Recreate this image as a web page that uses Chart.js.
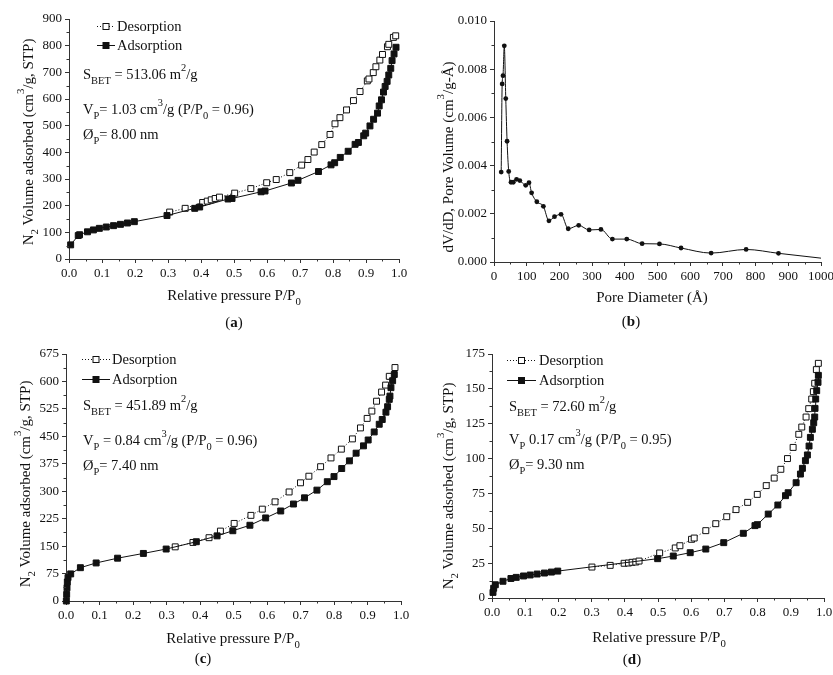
<!DOCTYPE html>
<html>
<head>
<meta charset="utf-8">
<script src="https://cdn.jsdelivr.net/npm/chart.js"></script>
<style>
  body { margin: 0; background: #fff; }
  #wrap { position: relative; width: 833px; height: 675px; }
  #wrap canvas { position: absolute; left: 0; top: 0; }
</style>
</head>
<body>
<div id="wrap">
  <canvas id="chartA" width="833" height="675"></canvas>
  <canvas id="chartB" width="833" height="675"></canvas>
  <canvas id="chartC" width="833" height="675"></canvas>
  <canvas id="chartD" width="833" height="675"></canvas>
</div>
<script>
// ---- data ----

// (a) isotherm
const aAdsP = [0.005, 0.028, 0.032, 0.056, 0.074, 0.092, 0.113, 0.135, 0.156, 0.177, 0.198, 0.297, 0.381, 0.396, 0.482, 0.494, 0.582, 0.594, 0.674, 0.694, 0.756, 0.794, 0.805, 0.822, 0.846, 0.867, 0.877, 0.893, 0.899, 0.912, 0.923, 0.935, 0.940, 0.947, 0.953, 0.958, 0.964, 0.969, 0.975, 0.979, 0.985, 0.991];
const aAdsV = [53, 88, 91, 102, 109, 115, 120, 125, 130, 135, 140, 163, 190, 195, 225, 227, 252, 255, 285, 295, 328, 353, 361, 381, 404, 430, 437, 462, 472, 499, 524, 547, 574, 597, 626, 647, 666, 690, 715, 744, 769, 794];
const aDesP = [0.305, 0.352, 0.405, 0.419, 0.431, 0.443, 0.456, 0.502, 0.551, 0.599, 0.628, 0.669, 0.705, 0.724, 0.743, 0.766, 0.791, 0.806, 0.821, 0.841, 0.862, 0.882, 0.904, 0.909, 0.922, 0.930, 0.942, 0.950, 0.965, 0.969, 0.983, 0.990];
const aDesV = [176, 190, 212, 217, 222, 227, 232, 247, 264, 286, 298, 324, 352, 373, 401, 429, 467, 507, 530, 559, 594, 628, 668, 675, 699, 721, 746, 767, 796, 805, 831, 837];

// (b) pore size distribution
const bDiam = [22, 25, 27.5, 31.5, 36, 40, 45, 52, 59, 69, 79, 97, 107, 115, 131, 151, 168, 185, 205, 227, 259, 291, 327, 362, 406, 453, 506, 572, 664, 771, 870, 1000];
const bDvdD = [0.00373, 0.00739, 0.00773, 0.00897, 0.00678, 0.00501, 0.00376, 0.00331, 0.00331, 0.00343, 0.00338, 0.00318, 0.00329, 0.00287, 0.00250, 0.00231, 0.00171, 0.00188, 0.00198, 0.00138, 0.00152, 0.00133, 0.00135, 0.00095, 0.00095, 0.00076, 0.00075, 0.00058, 0.00037, 0.00052, 0.00036, 0.00016];

// (c) isotherm
const cAdsP = [0.001, 0.002, 0.003, 0.004, 0.006, 0.014, 0.043, 0.090, 0.154, 0.231, 0.299, 0.389, 0.451, 0.498, 0.549, 0.596, 0.641, 0.679, 0.712, 0.749, 0.780, 0.800, 0.823, 0.846, 0.866, 0.888, 0.902, 0.920, 0.935, 0.944, 0.955, 0.960, 0.965, 0.967, 0.970, 0.975, 0.980];
const cAdsV = [0, 18, 36, 52, 64, 74, 91, 104, 117, 130, 142, 162, 178, 192, 207, 227, 246, 265, 282, 303, 326, 340, 362, 383, 404, 424, 440, 462, 483, 496, 516, 531, 551, 560, 583, 602, 619];
const cDesP = [0.326, 0.379, 0.427, 0.461, 0.502, 0.552, 0.586, 0.624, 0.666, 0.700, 0.725, 0.760, 0.791, 0.822, 0.855, 0.879, 0.899, 0.913, 0.927, 0.942, 0.954, 0.965, 0.982];
const cDesV = [148, 160, 173, 191, 212, 234, 251, 271, 298, 323, 341, 367, 391, 415, 443, 473, 499, 519, 546, 571, 590, 614, 638];

// (d) isotherm
const dAdsP = [0.003, 0.005, 0.010, 0.033, 0.057, 0.073, 0.095, 0.115, 0.136, 0.158, 0.179, 0.198, 0.499, 0.546, 0.597, 0.644, 0.698, 0.757, 0.792, 0.799, 0.832, 0.861, 0.884, 0.892, 0.916, 0.929, 0.935, 0.944, 0.950, 0.955, 0.959, 0.965, 0.969, 0.972, 0.973, 0.975, 0.978, 0.982, 0.983];
const dAdsV = [4, 7, 9.5, 12, 14, 14.8, 15.8, 16.5, 17.2, 17.9, 18.6, 19.3, 28.2, 30.1, 32.5, 35.1, 39.7, 46.4, 51.9, 52.6, 60.2, 66.7, 73.4, 75.5, 82.7, 88.9, 93.0, 98.5, 102.6, 109, 115.2, 121, 125.7, 129.8, 136, 142.7, 148.7, 154.7, 159.7];
const dDesP = [0.301, 0.356, 0.398, 0.411, 0.422, 0.433, 0.443, 0.505, 0.552, 0.566, 0.601, 0.609, 0.644, 0.674, 0.707, 0.735, 0.770, 0.799, 0.826, 0.850, 0.870, 0.890, 0.907, 0.924, 0.933, 0.946, 0.954, 0.963, 0.968, 0.972, 0.977, 0.983];
const dDesV = [22.2, 23.4, 24.9, 25.1, 25.6, 25.8, 26.5, 32.3, 35.9, 37.5, 42.1, 43.0, 48.3, 53.3, 58.3, 63.4, 68.6, 74.3, 80.6, 86, 92.3, 100, 108, 117.4, 122.6, 129.8, 135.8, 142.7, 148, 154, 163.8, 168.3];

const seriesNames = ['Desorption', 'Adsorption'];

// ---- drawing helpers ----
const FONT = '"Liberation Serif", "Times New Roman", serif';
const INK = '#111';
const AXIS = '#333';
const W = 833, H = 675;
const YW = 50, XH = 30; // fixed scale box sizes

const pts = (xs, ys) => xs.map((x, i) => ({ x: x, y: ys[i] }));

// draw text made of runs: [text, kind] with kind '', 'sub', 'sup', 'b'
function rich(ctx, x, y, parts, size, align) {
    const pieces = parts.map(([t, k]) => {
        const s = (k === 'sub' || k === 'sup') ? size * 0.72 : size;
        const f = (k === 'b' ? 'bold ' : '') + s + 'px ' + FONT;
        ctx.font = f;
        const dy = k === 'sub' ? size * 0.36 : (k === 'sup' ? -size * 0.58 : 0);
        return { t: t, f: f, w: ctx.measureText(t).width, dy: dy };
    });
    const total = pieces.reduce((s, p) => s + p.w, 0);
    let cx = align === 'center' ? x - total / 2 : x;
    ctx.textAlign = 'left';
    ctx.textBaseline = 'alphabetic';
    ctx.fillStyle = INK;
    pieces.forEach(p => {
        ctx.font = p.f;
        ctx.fillText(p.t, cx, y + p.dy);
        cx += p.w;
    });
}

function legendSample(ctx, x1, x2, y, filled) {
    ctx.save();
    ctx.strokeStyle = INK;
    ctx.lineWidth = 1;
    ctx.setLineDash(filled ? [] : [1, 2]);
    ctx.beginPath();
    ctx.moveTo(x1, y + 0.5);
    ctx.lineTo(x2, y + 0.5);
    ctx.stroke();
    ctx.setLineDash([]);
    const cx = (x1 + x2) / 2, s = 6;
    ctx.fillStyle = filled ? INK : '#fff';
    ctx.fillRect(cx - s / 2, y - s / 2 + 0.5, s, s);
    ctx.strokeRect(cx - s / 2, y - s / 2 + 0.5, s, s);
    ctx.restore();
}

function decor(spec) {
    return {
        id: 'decor',
        afterDraw(chart) {
            const ctx = chart.ctx;
            const a = chart.chartArea;
            const xs = chart.scales.x, ys = chart.scales.y;
            ctx.save();
            // minor ticks
            ctx.strokeStyle = AXIS;
            ctx.lineWidth = 1;
            ctx.beginPath();
            for (let v = xs.min + spec.xStep / 2; v < xs.max; v += spec.xStep) {
                const px = Math.round(xs.getPixelForValue(v)) + 0.5;
                ctx.moveTo(px, a.bottom);
                ctx.lineTo(px, a.bottom + 2.5);
            }
            for (let v = ys.min + spec.yStep / 2; v < ys.max; v += spec.yStep) {
                const py = Math.round(ys.getPixelForValue(v)) + 0.5;
                ctx.moveTo(a.left, py);
                ctx.lineTo(a.left - 2.5, py);
            }
            ctx.stroke();

            // axis titles
            rich(ctx, spec.xTitle.x, spec.xTitle.y, spec.xTitle.parts, 15, 'center');
            ctx.save();
            ctx.translate(spec.yTitle.x, spec.yTitle.y);
            ctx.rotate(-Math.PI / 2);
            rich(ctx, 0, 0, spec.yTitle.parts, 15, 'center');
            ctx.restore();

            // panel letter
            rich(ctx, spec.tag.x, spec.tag.y, [['(', ''], [spec.tag.text, 'b'], [')', '']], 15, 'center');

            // legend + notes
            if (spec.legend) {
                const L = spec.legend;
                legendSample(ctx, L.x1, L.x2, L.y1, false);
                legendSample(ctx, L.x1, L.x2, L.y2, true);
                rich(ctx, L.tx, L.y1 + 5, [[seriesNames[0], '']], 14.5, 'left');
                rich(ctx, L.tx, L.y2 + 5, [[seriesNames[1], '']], 14.5, 'left');
            }
            (spec.notes || []).forEach(n => rich(ctx, n.x, n.y, n.parts, 14.5, 'left'));
            ctx.restore();
        }
    };
}

function axis(min, max, step, digits, fixW) {
    return {
        type: 'linear',
        min: min,
        max: max,
        border: { display: true, color: AXIS, width: 1 },
        grid: { drawOnChartArea: false, drawTicks: true, tickLength: 4, tickColor: AXIS },
        ticks: {
            stepSize: step,
            color: INK,
            padding: 3,
            maxRotation: 0,
            autoSkip: false,
            font: { family: FONT, size: 13 },
            callback: v => Number(v).toFixed(digits)
        },
        afterFit(s) {
            if (fixW) { s.width = YW; s.paddingTop = 0; s.paddingBottom = 0; }
            else { s.height = XH; s.paddingLeft = 0; s.paddingRight = 0; }
        }
    };
}

function isoSets(adsX, adsY, desX, desY) {
    const base = {
        borderColor: INK,
        borderWidth: 1,
        pointStyle: 'rect',
        pointRadius: 4.2,
        pointBorderColor: INK,
        pointBorderWidth: 1,
        showLine: true,
        tension: 0,
        clip: false
    };
    return [
        Object.assign({}, base, { label: seriesNames[1], data: pts(adsX, adsY), pointBackgroundColor: INK }),
        Object.assign({}, base, { label: seriesNames[0], data: pts(desX, desY), pointBackgroundColor: '#fff', borderDash: [1, 2] })
    ];
}

function makePanel(id, box, xa, ya, datasets, spec) {
    new Chart(document.getElementById(id), {
        type: 'scatter',
        data: { datasets: datasets },
        options: {
            responsive: false,
            animation: false,
            events: [],
            layout: { padding: { left: box.l - YW, top: box.t, right: W - box.r, bottom: H - box.b - XH } },
            plugins: { legend: { display: false }, tooltip: { enabled: false } },
            scales: { x: xa, y: ya }
        },
        plugins: [decor(spec)]
    });
}

const P0 = [['Relative pressure P/P', ''], ['0', 'sub']];
const N2 = [['N', ''], ['2', 'sub'], [' Volume adsorbed (cm', ''], ['3', 'sup'], ['/g, STP)', '']];

// (a)
makePanel('chartA', { l: 69, t: 19, r: 399, b: 259 },
    axis(0, 1, 0.1, 1, false), axis(0, 900, 100, 0, true),
    isoSets(aAdsP, aAdsV, aDesP, aDesV),
    {
        xStep: 0.1, yStep: 100,
        xTitle: { x: 234, y: 300, parts: P0 },
        yTitle: { x: 33, y: 142, parts: N2 },
        tag: { x: 234, y: 327, text: 'a' },
        legend: { x1: 97, x2: 115, tx: 117, y1: 26, y2: 45 },
        notes: [
            { x: 83, y: 79, parts: [['S', ''], ['BET', 'sub'], [' = 513.06 m', ''], ['2', 'sup'], ['/g', '']] },
            { x: 83, y: 114, parts: [['V', ''], ['P', 'sub'], ['= 1.03 cm', ''], ['3', 'sup'], ['/g (P/P', ''], ['0', 'sub'], [' = 0.96)', '']] },
            { x: 83, y: 139, parts: [['Ø', ''], ['P', 'sub'], ['= 8.00 nm', '']] }
        ]
    });

// (b)
makePanel('chartB', { l: 494, t: 21, r: 821, b: 262 },
    axis(0, 1000, 100, 0, false), axis(0, 0.010, 0.002, 3, true),
    [{
        data: pts(bDiam, bDvdD),
        borderColor: INK,
        borderWidth: 1,
        pointStyle: 'circle',
        pointRadius: ctx => ctx.dataIndex === bDiam.length - 1 ? 0 : 2.4,
        pointBackgroundColor: INK,
        pointBorderColor: INK,
        pointBorderWidth: 0,
        showLine: true,
        cubicInterpolationMode: 'monotone',
        clip: false
    }],
    {
        xStep: 100, yStep: 0.002,
        xTitle: { x: 652, y: 302, parts: [['Pore Diameter (Å)', '']] },
        yTitle: { x: 453, y: 157, parts: [['dV/dD, Pore Volume (cm', ''], ['3', 'sup'], ['/g-Å)', '']] },
        tag: { x: 631, y: 326, text: 'b' }
    });

// (c)
makePanel('chartC', { l: 66, t: 354, r: 401, b: 601 },
    axis(0, 1, 0.1, 1, false), axis(0, 675, 75, 0, true),
    isoSets(cAdsP, cAdsV, cDesP, cDesV),
    {
        xStep: 0.1, yStep: 75,
        xTitle: { x: 233, y: 643, parts: P0 },
        yTitle: { x: 30, y: 484, parts: N2 },
        tag: { x: 203, y: 663, text: 'c' },
        legend: { x1: 82, x2: 110, tx: 112, y1: 359, y2: 379 },
        notes: [
            { x: 83, y: 410, parts: [['S', ''], ['BET', 'sub'], [' = 451.89 m', ''], ['2', 'sup'], ['/g', '']] },
            { x: 83, y: 445, parts: [['V', ''], ['P', 'sub'], [' = 0.84 cm', ''], ['3', 'sup'], ['/g (P/P', ''], ['0', 'sub'], [' = 0.96)', '']] },
            { x: 83, y: 470, parts: [['Ø', ''], ['P', 'sub'], ['= 7.40 nm', '']] }
        ]
    });

// (d)
makePanel('chartD', { l: 492, t: 354, r: 824, b: 598 },
    axis(0, 1, 0.1, 1, false), axis(0, 175, 25, 0, true),
    isoSets(dAdsP, dAdsV, dDesP, dDesV),
    {
        xStep: 0.1, yStep: 25,
        xTitle: { x: 659, y: 642, parts: P0 },
        yTitle: { x: 453, y: 486, parts: N2 },
        tag: { x: 632, y: 664, text: 'd' },
        legend: { x1: 507, x2: 536, tx: 539, y1: 360, y2: 380 },
        notes: [
            { x: 509, y: 411, parts: [['S', ''], ['BET', 'sub'], [' = 72.60 m', ''], ['2', 'sup'], ['/g', '']] },
            { x: 509, y: 444, parts: [['V', ''], ['P', 'sub'], [' 0.17 cm', ''], ['3', 'sup'], ['/g (P/P', ''], ['0', 'sub'], [' = 0.95)', '']] },
            { x: 509, y: 469, parts: [['Ø', ''], ['P', 'sub'], ['= 9.30 nm', '']] }
        ]
    });
</script>
</body>
</html>
